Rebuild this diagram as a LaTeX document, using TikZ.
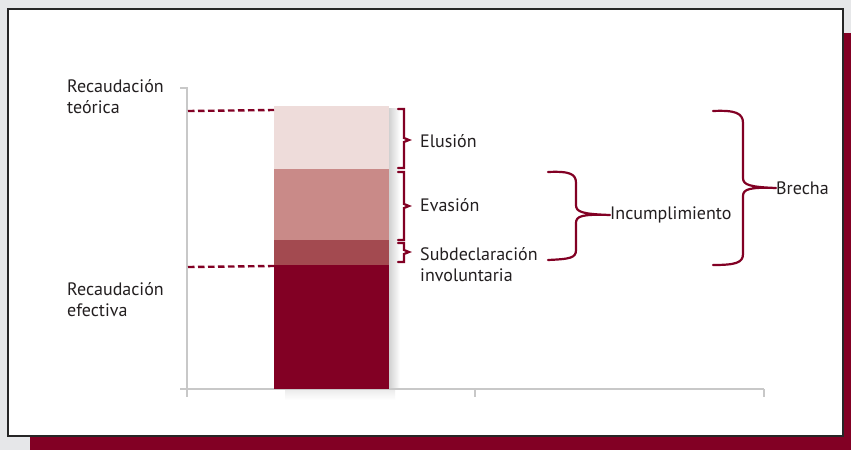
\documentclass[tikz,border=0pt]{standalone}
\usepackage{fontspec}
\setmainfont{PT Sans}
\begin{document}
\begin{tikzpicture}[x=1pt,y=-1pt,
  lbl/.style={anchor=west,inner sep=0pt,font=\fontsize{18}{21}\selectfont,text=txt},
  brc/.style={draw=maroon,line width=2.2pt,line cap=round},
  dsh/.style={draw=maroon,line width=2.4pt,dash pattern=on 6.5pt off 3.5pt},
  axis/.style={draw=axgray,line width=1.2pt}]
\definecolor{maroon}{HTML}{820024}
\definecolor{bggray}{HTML}{E6E7E9}
\definecolor{txt}{HTML}{231F20}
\definecolor{axgray}{HTML}{C8C8C8}
\definecolor{segA}{HTML}{EEDCDA}
\definecolor{segB}{HTML}{C98A88}
\definecolor{segC}{HTML}{A34A50}
\useasboundingbox (0,0) rectangle (851,450);
% background
\fill[bggray] (0,0) rectangle (851,450);
\fill[maroon] (30,33) rectangle (851,450);
\fill[white] (8,9) rectangle (843,436);
\draw[black!85,line width=2.2pt] (8,9) rectangle (843,436);
% shadow of bar
\shade[left color=black!18,right color=white] (389,108) rectangle (400,389);
\shade[top color=black!8,bottom color=white] (285,389) rectangle (395,400);
% axes
\draw[axis] (180,88) -- (187,88) -- (187,397);
\draw[axis] (180,389) -- (764,389);
\draw[axis] (475,389) -- (475,397);
\draw[axis] (764,389) -- (764,397);
% bar segments
\fill[segA] (274,106) rectangle (389,169);
\fill[segB] (274,169) rectangle (389,240);
\fill[segC] (274,240) rectangle (389,265);
\fill[maroon] (274,265) rectangle (389,389);
% dashed guides
\coordinate (t1) at (188,111);
\coordinate (t2) at (274,110);
\coordinate (e1) at (188,267);
\coordinate (e2) at (274,266);
\draw[dsh] (t1) -- (t2);
\draw[dsh] (e1) -- (e2);
% labels
\node[lbl,align=left] (teo) at (67,97) {Recaudación\\teórica};
\node[lbl,align=left] (efe) at (67,300) {Recaudación\\efectiva};
\node[lbl] (elu) at (420,141) {Elusión};
\node[lbl] (eva) at (420,205) {Evasión};
\node[lbl,align=left] (sub) at (420,265) {Subdeclaración\\involuntaria};
\node[lbl] (inc) at (610,215) {Incumplimiento};
\node[lbl] (bre) at (776,188) {Brecha};
% small braces
\draw[brc] (398,109) -- (404,109) -- (404,138) -- (409,140) -- (404,142) -- (404,168) -- (398,168);
\draw[brc] (398,172) -- (404,172) -- (404,204) -- (409,206) -- (404,208) -- (404,240) -- (398,240);
\draw[brc] (398,243) -- (404,243) -- (404,250) -- (409,252) -- (404,254) -- (404,262) -- (398,262);
% Incumplimiento brace
\draw[brc] (548,172) .. controls (570,171) and (576,174) .. (576,183) -- (576,205)
  .. controls (576,212) and (582,214) .. (inc.west)
  (inc.west) .. controls (582,214) and (576,216) .. (576,223) -- (576,250)
  .. controls (576,258) and (570,259) .. (548,260);
% Brecha brace
\draw[brc] (713,111) .. controls (735,110) and (743,113) .. (743,123) -- (743,178)
  .. controls (743,185) and (750,187) .. (bre.west)
  (bre.west) .. controls (750,187) and (743,189) .. (743,196) -- (743,254)
  .. controls (743,263) and (735,265) .. (713,265);
\end{tikzpicture}
\end{document}
